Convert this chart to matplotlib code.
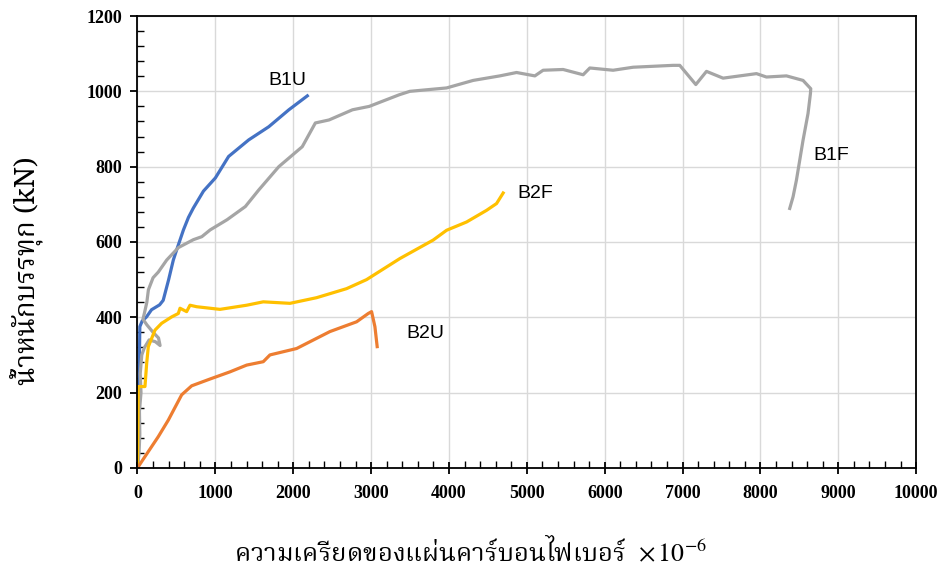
import numpy as np
import matplotlib
matplotlib.use("Agg")
import matplotlib.pyplot as plt
from matplotlib.ticker import MultipleLocator

# strain (x1e-6) / load (kN)
b1u_strain = [0, 15, 20, 25, 30, 60, 116, 180, 284, 330, 400, 460, 503, 590, 654, 717, 847, 1000,
              1170, 1428, 1686, 1944, 2181]
b1u_load = [0, 100, 230, 300, 375, 390, 401, 420, 433, 445, 500, 552, 579, 632, 665, 690, 735, 770,
            827, 871, 906, 951, 988]

b1f_strain = [0, 20, 30, 25, 45, 35, 55, 90, 150, 230, 290, 270, 200, 120, 70, 90, 120, 140, 200, 267,
              375, 525, 717, 826, 933, 1150, 1385, 1557, 1815, 2116, 2284, 2460, 2761, 2976, 3113, 3363,
              3498, 3969, 4311, 4653, 4868, 5103, 5209, 5466, 5723, 5809, 6108, 6365, 6878, 6964, 7170,
              7307, 7520, 7949, 8077, 8334, 8547, 8646, 8642, 8611, 8547, 8462, 8419, 8376]
b1f_load = [0, 40, 90, 150, 200, 250, 300, 320, 340, 335, 325, 345, 360, 380, 395, 412, 440, 473, 505, 520,
            552, 585, 606, 614, 632, 659, 694, 738, 800, 853, 916, 924, 951, 960, 971, 991,
            1000, 1009, 1029, 1041, 1050, 1041, 1056, 1058, 1044, 1062, 1056, 1064, 1069, 1069, 1018,
            1053, 1035, 1047, 1038, 1041, 1029, 1007, 994, 941, 870, 764, 720, 689]

b2f_strain = [0, 10, 96, 118, 139, 225, 310, 439, 524, 546, 631, 674, 760, 1059, 1402, 1615, 1958, 2300,
              2685, 2942, 3370, 3797, 3969, 4226, 4483, 4611, 4696]
b2f_load = [0, 216, 216, 278, 322, 366, 384, 401, 410, 424, 415, 432, 428, 421, 432, 441, 437, 452,
            476, 500, 556, 605, 631, 653, 684, 702, 730]

b2u_strain = [0, 54, 267, 396, 567, 696, 931, 1187, 1402, 1615, 1701, 2043, 2471, 2814, 2963, 3006,
              3049, 3078]
b2u_load = [0, 17, 83, 127, 194, 218, 236, 255, 273, 282, 300, 317, 362, 388, 410, 415, 375, 322]

labels = ['B1U', 'B1F', 'B2F', 'B2U']
label_pos = [(1919, 1029), (8915, 830), (5103, 729), (3691, 358)]

plt.rcParams['mathtext.fontset'] = 'stix'
thai_family = ['Noto Serif Thai', 'DejaVu Serif']

fig = plt.figure(figsize=(9.45, 5.72), dpi=100)
ax = fig.add_axes([0.1455, 0.182, 0.824, 0.79])

ax.plot(b1u_strain, b1u_load, color='#4472C4', lw=2.3)
ax.plot(b1f_strain, b1f_load, color='#A5A5A5', lw=2.3)
ax.plot(b2f_strain, b2f_load, color='#FFC000', lw=2.3)
ax.plot(b2u_strain, b2u_load, color='#ED7D31', lw=2.3)

ax.set_xlim(0, 10000)
ax.set_ylim(0, 1200)
ax.xaxis.set_major_locator(MultipleLocator(1000))
ax.xaxis.set_minor_locator(MultipleLocator(200))
ax.yaxis.set_major_locator(MultipleLocator(200))
ax.yaxis.set_minor_locator(MultipleLocator(40))
ax.grid(True, which='major', color='#D9D9D9', lw=1.0)
ax.set_axisbelow(True)
for s in ax.spines.values():
    s.set_linewidth(1.3)
    s.set_color('black')
ax.tick_params(axis='y', which='major', direction='out', length=5, width=1.3, pad=6)
ax.tick_params(axis='x', which='major', direction='inout', length=9, width=1.3, pad=8)
ax.tick_params(which='minor', direction='in', length=5, width=1.0)
for lab in ax.get_xticklabels() + ax.get_yticklabels():
    lab.set_fontfamily('Liberation Serif')
    lab.set_fontweight('bold')
    lab.set_fontsize(13)

for txt, (x, y) in zip(labels, label_pos):
    ax.text(x, y, txt, fontsize=14, family='Liberation Sans', ha='center', va='center')

fig.text(0.028, 0.527, 'น้ำหนักบรรทุก (kN)', rotation=90, ha='center', va='center',
         fontsize=20, fontweight='bold', family=thai_family)
fig.text(0.498, 0.035, 'ความเครียดของแผ่นคาร์บอนไฟเบอร์  $\\times\\,10^{-6}$', ha='center', va='center',
         fontsize=18.5, family=thai_family)

fig.savefig('out.png', dpi=100)
